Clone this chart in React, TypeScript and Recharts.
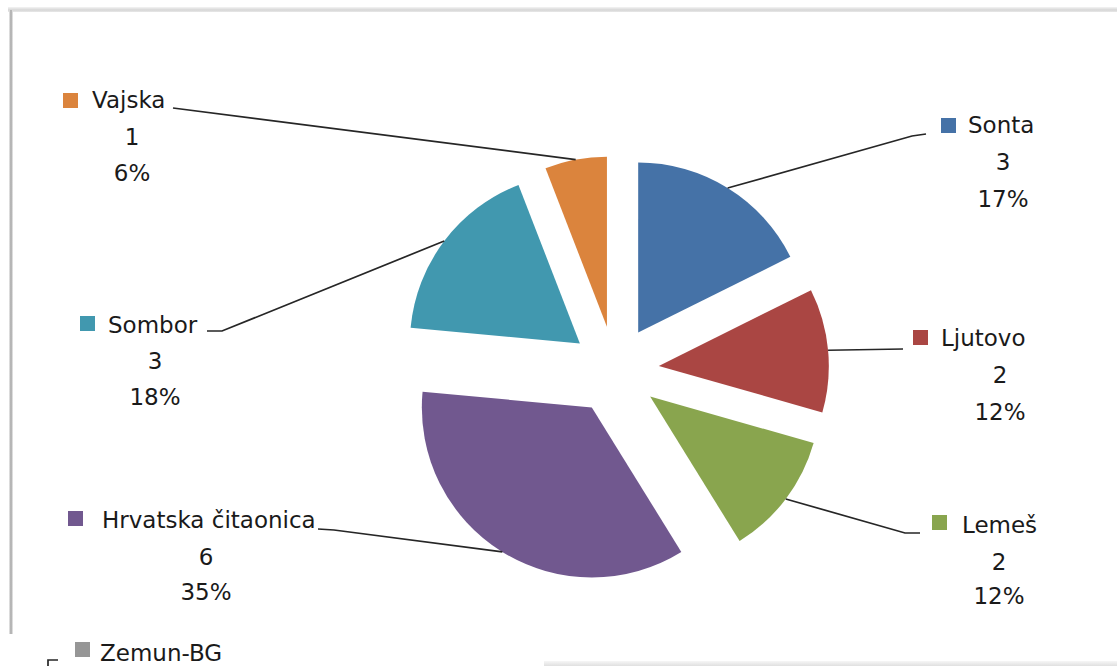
import React from "react";
import { PieChart, Pie, Cell, Sector } from "recharts";

// ---- data ----
const CATEGORIES = ["Sonta", "Ljutovo", "Lemeš", "Hrvatska čitaonica", "Sombor", "Vajska", "Zemun-BG"];
const VALUES = [3, 2, 2, 6, 3, 1, 0];
const PERCENT_LABELS = ["17%", "12%", "12%", "35%", "18%", "6%", "0%"];
const COLORS = ["#4572A7", "#AA4643", "#89A54E", "#71588F", "#4198AF", "#DB843D", "#969696"];

// ---- layout of the (manually placed) data labels ----
type LabelLayout = {
  sq: [number, number];
  t1: [number, number];
  c: number;
  b2: number;
  b3: number;
  leader: [number, number][];
  leaderEnd?: [number, number];
  clipped?: boolean;
};
const LABEL_LAYOUT: LabelLayout[] = [
  { sq: [941, 118], t1: [968, 133], c: 1003, b2: 170, b3: 207, leader: [[926, 134], [912, 136]] },
  { sq: [913, 330], t1: [941, 346], c: 1000, b2: 383, b3: 420, leader: [[903, 349]] },
  { sq: [932, 515], t1: [962, 533], c: 999, b2: 570, b3: 604, leader: [[920, 533], [905, 533]] },
  { sq: [68, 511], t1: [102, 528], c: 206, b2: 565, b3: 600, leader: [[318, 529], [334, 530]] },
  { sq: [80, 316], t1: [108, 333], c: 155, b2: 369, b3: 405, leader: [[207, 331], [222, 331]] },
  { sq: [63, 93], t1: [92, 108], c: 132, b2: 145, b3: 181, leader: [[173, 108]] },
  { sq: [75, 642], t1: [100, 661], c: 160, b2: 698, b3: 734, leader: [[58, 660], [48, 660]], leaderEnd: [48, 700], clipped: true },
];

const EXPLODE = 44;
const RADIUS = 170;
const RAD = Math.PI / 180;
const FONT = "'DejaVu Sans', sans-serif";
const TEXT_COLOR = "#1a1a1a";

const data = CATEGORIES.map((name, i) => ({ name, value: VALUES[i] }));

const renderSlice = (props: any) => {
  const { cx, cy, midAngle, outerRadius, startAngle, endAngle, index, value } = props;
  const ex = cx + EXPLODE * Math.cos(midAngle * RAD);
  const ey = cy - EXPLODE * Math.sin(midAngle * RAD);
  const ax = ex + outerRadius * Math.cos(midAngle * RAD);
  const ay = ey - outerRadius * Math.sin(midAngle * RAD);
  const L = LABEL_LAYOUT[index];
  const end = L.leaderEnd ?? [ax, ay];
  const pts = [...L.leader, end].map((p) => `${p[0]},${p[1]}`).join(" ");
  return (
    <g key={`slice-${index}`}>
      {value > 0 && (
        <Sector
          cx={ex}
          cy={ey}
          innerRadius={0}
          outerRadius={outerRadius}
          startAngle={startAngle}
          endAngle={endAngle}
          fill={COLORS[index]}
          stroke="none"
        />
      )}
      <polyline points={pts} fill="none" stroke="#262626" strokeWidth={1.7} />
      <rect x={L.sq[0]} y={L.sq[1]} width={15} height={15} fill={COLORS[index]} />
      <text x={L.t1[0]} y={L.t1[1]} fontFamily={FONT} fontSize={23} fill={TEXT_COLOR} textAnchor="start">
        {CATEGORIES[index]}
      </text>
      {!L.clipped && (
        <text x={L.c} y={L.b2} fontFamily={FONT} fontSize={23} fill={TEXT_COLOR} textAnchor="middle">
          {String(VALUES[index])}
        </text>
      )}
      {!L.clipped && (
        <text x={L.c} y={L.b3} fontFamily={FONT} fontSize={23} fill={TEXT_COLOR} textAnchor="middle">
          {PERCENT_LABELS[index]}
        </text>
      )}
    </g>
  );
};

export default function App() {
  return (
    <div style={{ position: "absolute", left: 0, top: 0, width: 1117, height: 666, background: "#fff", overflow: "hidden" }}>
      {/* frame of the screenshot */}
      <div style={{ position: "absolute", left: 8, top: 7, width: 1109, height: 5, background: "linear-gradient(#f4f4f4, #d6d6d6 60%, #e8e8e8)" }} />
      <div style={{ position: "absolute", left: 9, top: 10, width: 4, height: 624, background: "linear-gradient(90deg, #eeeeee, #b2b2b2 40%, #b2b2b2 60%, #f0f0f0)" }} />
      <div style={{ position: "absolute", left: 544, top: 661, width: 573, height: 5, background: "linear-gradient(#f6f6f6, #e0e0e0)" }} />
      <div style={{ position: "absolute", left: 0, top: 0 }}>
        <PieChart width={1117} height={666} margin={{ top: 0, right: 0, bottom: 0, left: 0 }}>
          <Pie
            data={data}
            dataKey="value"
            nameKey="name"
            cx={615}
            cy={370}
            outerRadius={RADIUS}
            startAngle={90}
            endAngle={-270}
            stroke="none"
            fillOpacity={0}
            label={renderSlice}
            labelLine={false}
            isAnimationActive={false}
          >
            {data.map((d, i) => (
              <Cell key={d.name} fill={COLORS[i]} />
            ))}
          </Pie>
        </PieChart>
      </div>
    </div>
  );
}
